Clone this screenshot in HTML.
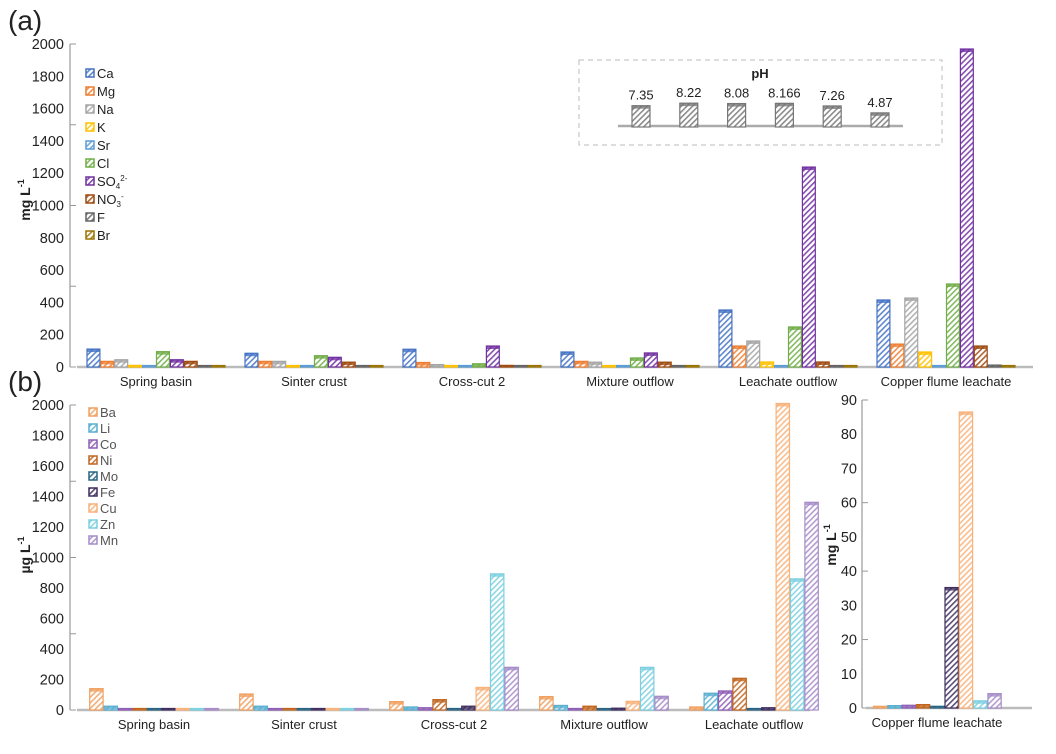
<!DOCTYPE html>
<html><head><meta charset="utf-8"><style>
body{margin:0;background:#fff;font-family:"Liberation Sans",Arial,sans-serif;}
svg text{font-family:"Liberation Sans",Arial,sans-serif;}
</style></head><body>
<svg id="chart" width="1056" height="749" viewBox="0 0 1056 749">
<defs id="defs"></defs>
<text x="8" y="30" font-size="28" fill="#222">(a)</text>
<text x="8" y="391" font-size="28" fill="#222">(b)</text>
</svg>
<script>
const catsA = ["Spring basin","Sinter crust","Cross-cut 2","Mixture outflow","Leachate outflow","Copper flume leachate"];
const seriesA = ["Ca","Mg","Na","K","Sr","Cl","SO4","NO3","F","Br"];
const colorsA = ["#4472c4","#ed7d31","#a5a5a5","#ffc000","#5b9bd5","#70ad47","#7030a0","#9e480e","#636363","#997300"];
const valsA = [
 [111,35,45,10,8,95,45,35,8,8],
 [85,35,35,8,8,70,60,30,8,8],
 [110,28,15,8,8,20,130,10,8,8],
 [93,35,30,8,8,56,87,30,8,8],
 [353,130,161,31,8,248,1238,31,8,8],
 [415,142,427,93,8,514,1969,130,12,8]];
const ticksA = [0,200,400,600,800,1000,1200,1400,1600,1800,2000];
const phVals = [7.35,8.22,8.08,8.166,7.26,4.87];
const phLabels = ["7.35","8.22","8.08","8.166","7.26","4.87"];

const catsB = ["Spring basin","Sinter crust","Cross-cut 2","Mixture outflow","Leachate outflow"];
const seriesB = ["Ba","Li","Co","Ni","Mo","Fe","Cu","Zn","Mn"];
const colorsB = ["#f0a060","#5aaed0","#8e5fb5","#c0651e","#2b6482","#3e2e5e","#f8b27a","#7ccfe0","#a68cc8"];
const valsB = [
 [140,25,8,10,8,10,10,8,8],
 [105,25,8,10,8,10,8,8,8],
 [55,20,15,68,10,25,148,893,280],
 [88,30,10,25,8,12,57,280,90],
 [20,110,125,208,10,15,2010,860,1362]];
const ticksB = [0,200,400,600,800,1000,1200,1400,1600,1800,2000];
const catC = "Copper flume leachate";
const valsC = [0.5,0.7,0.8,1.0,0.5,35.2,86.5,2.1,4.2];
const ticksC = [0,10,20,30,40,50,60,70,80,90];

const svg = document.getElementById('chart');
const defs = document.getElementById('defs');
const NS = "http://www.w3.org/2000/svg";
function mk(tag, attrs, parent){const e=document.createElementNS(NS,tag);for(const k in attrs)e.setAttribute(k,attrs[k]);(parent||svg).appendChild(e);return e;}
let pid=0;
function pattern(color){
  const id='p'+(pid++);
  const p=mk('pattern',{id:id,patternUnits:'userSpaceOnUse',width:4,height:4,patternTransform:'rotate(45)'},defs);
  mk('rect',{x:0,y:0,width:4,height:4,fill:'#fff'},p);
  mk('rect',{x:0,y:0,width:1.6,height:4,fill:color,opacity:0.85},p);
  return 'url(#'+id+')';
}
function bar(x,w,y0,y1,color,name){
  const g=mk('g',{});
  
  
  const h=Math.max(y0-y1,1.5);
  mk('rect',{x:x+0.5,y:y0-h,width:w-1,height:h,fill:pattern(color),stroke:color,'stroke-width':1.2},g);
  mk('rect',{x:x+0.5,y:y0-h,width:w-1,height:Math.min(3,h),fill:color,opacity:0.8},g);
  return g;
}
function text(x,y,s,size,anchor,extra){const t=mk('text',Object.assign({x:x,y:y,'font-size':size,'text-anchor':anchor||'start',fill:'#222'},extra||{}));t.textContent=s;return t;}

// ---------- Panel A ----------
const A={x0:70,base:367,top:44,max:2000};
const yA=v=>A.base-(v/A.max)*(A.base-A.top);
mk('line',{x1:A.x0,y1:A.top,x2:A.x0,y2:A.base,stroke:'#999','stroke-width':1.2});
ticksA.forEach(t=>{const l=text(64,yA(t)+5,String(t),14.5,'end');});
[0,500,1000,1500,2000].forEach(t=>mk('line',{x1:A.x0,y1:yA(t),x2:A.x0+6,y2:yA(t),stroke:'#999'}));
mk('line',{x1:77,y1:A.base,x2:1033,y2:A.base,stroke:'#bbb','stroke-width':2.5});
const tA=text(0,0,'',14,'middle',{'font-weight':'bold',transform:'translate(30,200) rotate(-90)'});
tA.innerHTML='mg L<tspan dy="-6" font-size="9">-1</tspan>';

const stepA=158, bwA=13.9, c0A=156;
catsA.forEach((c,i)=>{
  const cx=c0A+i*stepA, sx=cx-bwA*seriesA.length/2;
  valsA[i].forEach((v,j)=>bar(sx+j*bwA,bwA,A.base,yA(v),colorsA[j],'bar-a-'+seriesA[j].toLowerCase()+'-'+i));
  const l=text(cx,386,c,13,'middle');
});
// legend A
seriesA.forEach((s,j)=>{
  const y=74+j*18;
  const g=mk('g',{});
  
  
  mk('rect',{x:86,y:y-5,width:8,height:8,fill:pattern(colorsA[j]),stroke:colorsA[j],'stroke-width':1.5},g);
  const t=mk('text',{x:97,y:y+4,'font-size':13,fill:'#222'},g);
  if(s==='SO4') t.innerHTML='SO<tspan dy="3" font-size="8">4</tspan><tspan dy="-8" font-size="8">2-</tspan>';
  else if(s==='NO3') t.innerHTML='NO<tspan dy="3" font-size="8">3</tspan><tspan dy="-8" font-size="8">-</tspan>';
  else t.textContent=s;
});
// pH inset
const box=mk('rect',{x:579,y:60,width:363,height:85,fill:'none',stroke:'#bbb','stroke-dasharray':'5,4'});

const ph=text(760,78,'pH',13,'middle',{'font-weight':'bold'});
mk('line',{x1:618,y1:126,x2:903,y2:126,stroke:'#aaa','stroke-width':2.5});
const phScale=2.9;
phVals.forEach((v,i)=>{
  const cx=641+i*47.8;
  bar(cx-9.5,19,127,127-v*phScale,'#777','ph-bar-'+i);
  const l=text(cx,127-v*phScale-6,phLabels[i],13,'middle');
  
});

// ---------- Panel B ----------
const B={x0:70,base:710,top:405,max:2000};
const yB=v=>B.base-(v/B.max)*(B.base-B.top);
mk('line',{x1:B.x0,y1:B.top,x2:B.x0,y2:B.base,stroke:'#999','stroke-width':1.2});
ticksB.forEach(t=>{const l=text(64,yB(t)+5,String(t),14.5,'end');});
[0,500,1000,1500,2000].forEach(t=>mk('line',{x1:B.x0,y1:yB(t),x2:B.x0+6,y2:yB(t),stroke:'#999'}));
mk('line',{x1:77,y1:B.base,x2:810,y2:B.base,stroke:'#bbb','stroke-width':2.5});
const tB=text(0,0,'',14,'middle',{'font-weight':'bold',transform:'translate(30,555) rotate(-90)'});
tB.innerHTML='µg L<tspan dy="-6" font-size="9">-1</tspan>';

const stepB=150, bwB=14.4, c0B=154;
catsB.forEach((c,i)=>{
  const cx=c0B+i*stepB, sx=cx-bwB*seriesB.length/2;
  valsB[i].forEach((v,j)=>bar(sx+j*bwB,bwB,B.base,yB(v),colorsB[j],'bar-b-'+seriesB[j].toLowerCase()+'-'+i));
  const l=text(cx,729,c,13,'middle');
});
seriesB.forEach((s,j)=>{
  const y=412+j*16;
  const g=mk('g',{});
  
  
  mk('rect',{x:89,y:y-4,width:8,height:8,fill:pattern(colorsB[j]),stroke:colorsB[j],'stroke-width':1.5},g);
  const t=mk('text',{x:100,y:y+5,'font-size':13,fill:'#555'},g);t.textContent=s;
});

// ---------- Panel C ----------
const C={x0:862,base:708,top:400,max:90};
const yC=v=>C.base-(v/C.max)*(C.base-C.top);
mk('line',{x1:C.x0,y1:C.top,x2:C.x0,y2:C.base,stroke:'#999','stroke-width':1.2});
ticksC.forEach(t=>{const l=text(857,yC(t)+5,String(t),14.5,'end');});
[0,20,40,60,90].forEach(t=>mk('line',{x1:C.x0,y1:yC(t),x2:C.x0+6,y2:yC(t),stroke:'#999'}));
mk('line',{x1:866,y1:C.base,x2:1032,y2:C.base,stroke:'#bbb','stroke-width':2.5});
const tC=text(0,0,'',14,'middle',{'font-weight':'bold',transform:'translate(836,545) rotate(-90)'});
tC.innerHTML='mg L<tspan dy="-6" font-size="9">-1</tspan>';

const bwC=14.3, sxC=873;
valsC.forEach((v,j)=>bar(sxC+j*bwC,bwC,C.base,yC(v),colorsB[j],'bar-c-'+seriesB[j].toLowerCase()));
const lc=text(937,727,catC,13,'middle');
</script>
</body></html>
